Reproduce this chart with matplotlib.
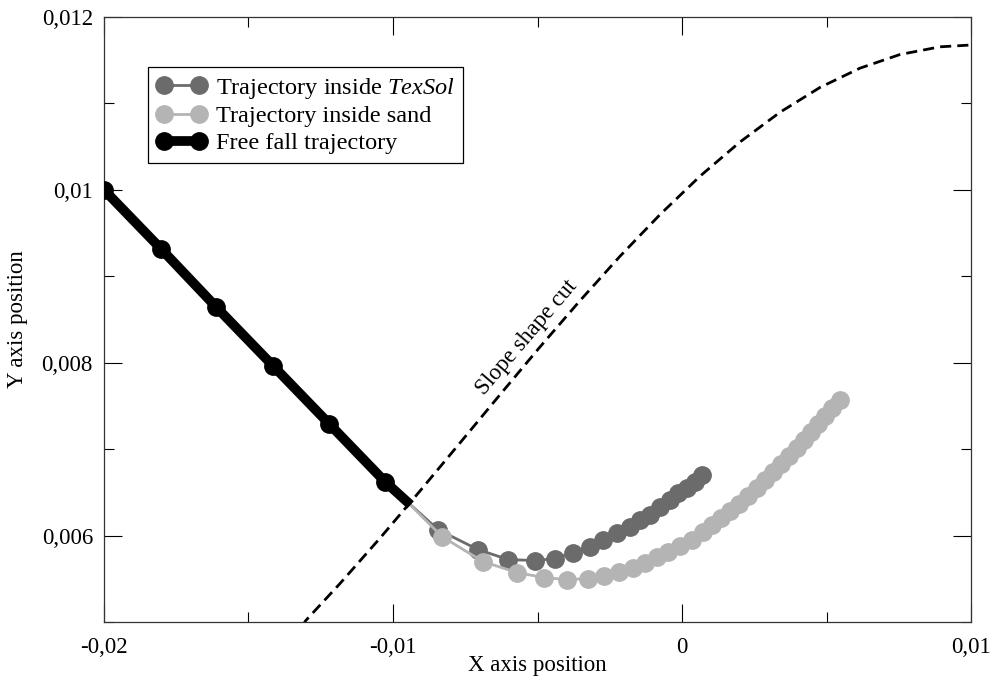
import numpy as np
import matplotlib
matplotlib.use("Agg")
import matplotlib.pyplot as plt
from matplotlib.ticker import MultipleLocator

# Fuente tipo Times para todo el grafico
plt.rcParams['font.family'] = ['Liberation Serif', 'DejaVu Serif']
plt.rcParams['mathtext.fontset'] = 'custom'
plt.rcParams['mathtext.rm'] = 'Liberation Serif'
plt.rcParams['mathtext.it'] = 'Liberation Serif:italic'

# Trayectoria en caida libre (el ultimo punto es el corte con la pendiente, sin marcador)
free_x = [-0.02, -0.018028, -0.016125, -0.014152, -0.012215, -0.010277, -0.009516]
free_y = [0.010, 0.009318, 0.008647, 0.007965, 0.007295, 0.006624, 0.006393]

# Trayectoria dentro del TexSol
texsol_x = [-0.009516, -0.008443, -0.007059, -0.006021, -0.005087, -0.004394, -0.003772,
            -0.003183, -0.002734, -0.002249, -0.001799, -0.001453, -0.001107, -0.000761,
            -0.000415, -0.000138, 0.000173, 0.000450, 0.000692]
texsol_y = [0.006393, 0.006069, 0.005838, 0.005723, 0.005711, 0.005734, 0.005803,
            0.005873, 0.005954, 0.006035, 0.006104, 0.006185, 0.006243, 0.006335,
            0.006416, 0.006497, 0.006555, 0.006624, 0.006705]

# Trayectoria dentro de la arena
sand_x = [-0.009516, -0.008304, -0.006886, -0.005709, -0.004775, -0.003979, -0.003253,
          -0.002699, -0.002180, -0.001696, -0.001280, -0.000865, -0.000484, -0.000069,
          0.000346, 0.000727, 0.001038, 0.001349, 0.001661, 0.001972, 0.002284, 0.002595,
          0.002872, 0.003149, 0.003426, 0.003702, 0.003979, 0.004221, 0.004464, 0.004706,
          0.004948, 0.005190, 0.005467]
sand_y = [0.006393, 0.005988, 0.005699, 0.005572, 0.005514, 0.005491, 0.005503,
          0.005538, 0.005584, 0.005630, 0.005688, 0.005757, 0.005815, 0.005884,
          0.005954, 0.006046, 0.006127, 0.006208, 0.006289, 0.006370, 0.006462, 0.006555,
          0.006647, 0.006740, 0.006832, 0.006925, 0.007017, 0.007110, 0.007202, 0.007295,
          0.007387, 0.007480, 0.007572]

# Corte con forma de pendiente (linea discontinua)
slope_x = [-0.013150, -0.013010, -0.011834, -0.010450, -0.009066, -0.007682, -0.006298,
           -0.004913, -0.003529, -0.002145, -0.000761, 0.000623, 0.002007, 0.003391,
           0.004775, 0.006159, 0.007543, 0.008927, 0.010]
slope_y = [0.004950, 0.005020, 0.005445, 0.005970, 0.006516, 0.007072, 0.007630,
           0.008183, 0.008718, 0.009232, 0.009714, 0.010158, 0.010554, 0.010898,
           0.011185, 0.011408, 0.011566, 0.011655, 0.011676]

x_ticks = [-0.02, -0.01, 0, 0.01]
x_ticklabels = ["-0,02", "-0,01", "0", "0,01"]
y_ticks = [0.006, 0.008, 0.010, 0.012]
y_ticklabels = ["0,006", "0,008", "0,01", "0,012"]

color_texsol = "#6b6b6b"
color_sand = "#b4b4b4"

fig = plt.figure(figsize=(9.96, 6.84), dpi=100)
ax = fig.add_axes([104 / 996, 1 - 622 / 684, 867 / 996, 605 / 684])

ax.plot(texsol_x, texsol_y, color=color_texsol, lw=2, marker='o', ms=12.5,
        markevery=list(range(1, len(texsol_x))), label=r"Trajectory inside $\mathit{TexSol}$", zorder=3)
ax.plot(sand_x, sand_y, color=color_sand, lw=2, marker='o', ms=12.5,
        markevery=list(range(1, len(sand_x))), label="Trajectory inside sand", zorder=4)
ax.plot(free_x, free_y, color='black', lw=7, marker='o', ms=12.5,
        markevery=list(range(len(free_x) - 1)), label="Free fall trajectory", zorder=5)
ax.plot(slope_x, slope_y, color='black', lw=2, dashes=(4, 2.2), zorder=6)

# texto girado sobre la linea discontinua (posicion en pixeles de la figura)
fig.text(527 / 996, 1 - 337 / 684, "Slope shape cut", fontsize=16.5, rotation=49.5,
         ha='center', va='center')

ax.set_xlim(-0.02, 0.01)
ax.set_ylim(0.005, 0.012)
ax.set_xticks(x_ticks)
ax.set_xticklabels(x_ticklabels)
ax.set_yticks(y_ticks)
ax.set_yticklabels(y_ticklabels)
ax.xaxis.set_minor_locator(MultipleLocator(0.005))
ax.yaxis.set_minor_locator(MultipleLocator(0.001))
ax.tick_params(which='both', direction='in', top=True, right=True, labelsize=16.5, width=0.8)
ax.tick_params(which='major', length=13)
ax.tick_params(axis='x', which='major', pad=11)
ax.tick_params(axis='y', which='major', pad=8)
ax.tick_params(which='minor', length=7)
for s in ax.spines.values():
    s.set_linewidth(0.9)
    s.set_color('#333333')

ax.set_xlabel("X axis position", fontsize=16.5, labelpad=-2)
ax.set_ylabel("Y axis position", fontsize=16.5, labelpad=10)

leg = ax.legend(loc='upper left', bbox_to_anchor=((148 - 104) / 867, (622 - 67) / 605),
                borderaxespad=0, fancybox=False, edgecolor='black', framealpha=1,
                fontsize=17.5, numpoints=2, handlelength=2.05, handletextpad=0.4,
                labelspacing=0.2, borderpad=0.35)
leg.get_frame().set_linewidth(0.9)

fig.savefig("out.png", dpi=100)
